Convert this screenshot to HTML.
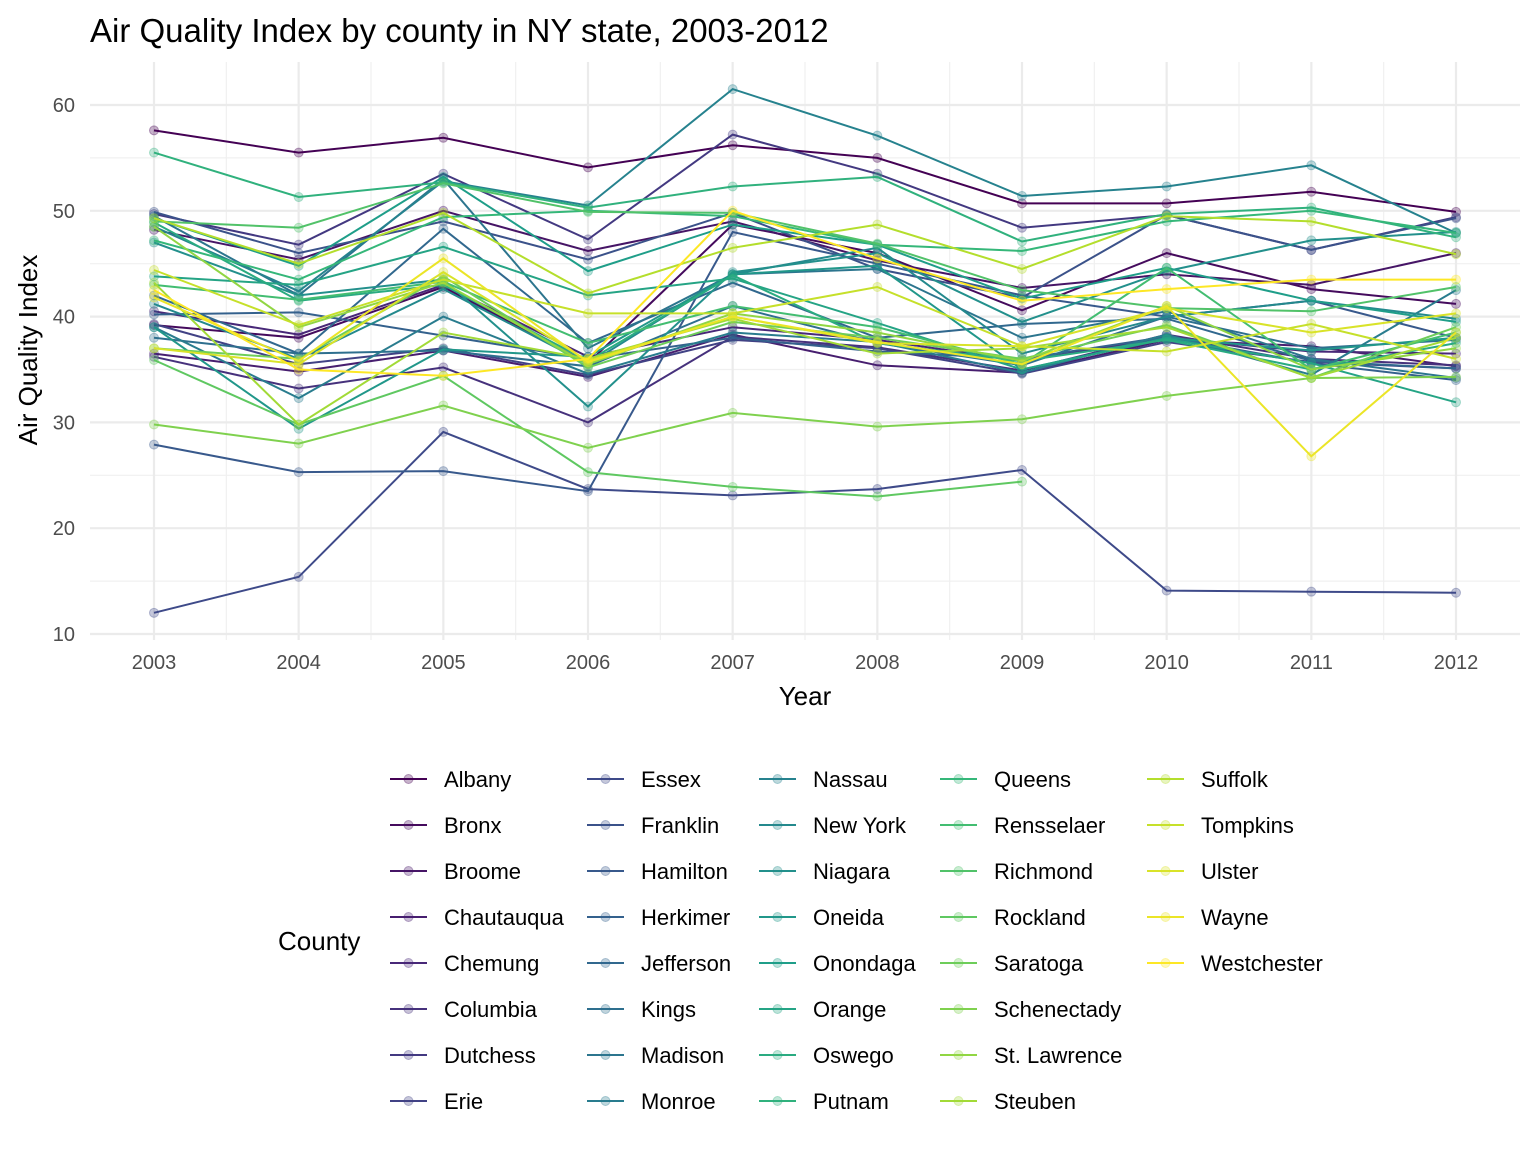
<!DOCTYPE html>
<html><head><meta charset="utf-8"><style>
body{margin:0;background:#fff;font-family:"Liberation Sans",Arial,sans-serif;}
svg text{font-family:"Liberation Sans",Arial,sans-serif;}
</style></head><body>
<svg id="chart" width="1536" height="1152" xmlns="http://www.w3.org/2000/svg">
<rect width="1536" height="1152" fill="#fff"/>
<text x="90" y="42" font-size="33" fill="#000">Air Quality Index by county in NY state, 2003-2012</text>
<g id="grid"></g><g id="series"></g><g id="axes"></g><g id="legend"></g>
<text x="805" y="705" font-size="26" text-anchor="middle" fill="#000">Year</text>
<text transform="translate(37,350) rotate(-90)" font-size="26" text-anchor="middle" fill="#000">Air Quality Index</text>
<text x="278" y="950" font-size="26" fill="#000">County</text>
</svg>
<script>
const years=[2003,2004,2005,2006,2007,2008,2009,2010,2011,2012];
const yTicks=[10,20,30,40,50,60];
const counties=["Albany","Bronx","Broome","Chautauqua","Chemung","Columbia","Dutchess","Erie","Essex","Franklin","Hamilton","Herkimer","Jefferson","Kings","Madison","Monroe","Nassau","New York","Niagara","Oneida","Onondaga","Orange","Oswego","Putnam","Queens","Rensselaer","Richmond","Rockland","Saratoga","Schenectady","St. Lawrence","Steuben","Suffolk","Tompkins","Ulster","Wayne","Westchester"];
const s0=[57.6,55.5,56.9,54.1,56.2,55.0,50.7,50.7,51.8,49.9];
const s1=[39.2,38.0,42.8,35.6,48.7,46.0,40.6,46.0,42.6,41.2];
const s2=[48.2,45.4,50.0,46.2,49.0,45.3,42.7,44.0,43.0,46.0];
const s3=[36.5,34.8,36.8,34.3,38.3,35.4,34.7,37.8,37.2,35.3];
const s4=[40.5,38.3,43.0,36.2,39.0,37.8,35.8,38.0,36.7,36.5];
const s5=[36.2,33.2,35.2,30.0,38.1,37.1,34.9,38.3,36.0,35.4];
const s6=[49.7,46.8,53.5,47.3,57.2,53.5,48.4,49.6,46.3,49.4];
const s7=[39.3,35.5,37.0,34.5,37.8,37.0,34.6,37.6,35.7,35.1];
const s8=[12.0,15.4,29.1,23.7,23.1,23.7,25.5,14.1,14.0,13.9];
const s9=[49.9,46.0,49.0,45.4,49.8,44.5,41.8,49.6,46.3,49.3];
const s10=[27.9,25.3,25.4,23.5,48.0,45.0,42.0,40.0,41.5,38.0];
const s11=[40.2,40.4,38.2,36.0,38.0,36.7,36.0,38.1,35.6,34.0];
const s12=[42.0,36.5,48.3,37.5,43.2,38.0,39.3,39.8,35.8,35.1];
const s13=[38.0,36.5,36.8,35.3,41.0,37.5,35.4,40.0,37.0,37.8];
const s14=[49.5,42.0,53.0,37.0,44.0,44.5,38.0,40.5,36.0,34.2];
const s15=[39.0,32.3,40.0,34.6,38.5,37.6,34.7,38.3,34.5,42.5];
const s16=[48.5,42.4,52.8,50.5,61.5,57.1,51.4,52.3,54.3,47.9];
const s17=[41.2,36.0,42.6,35.5,44.0,46.5,36.5,40.0,41.5,39.8];
const s18=[47.0,42.0,43.5,31.5,44.2,46.0,39.5,44.3,47.2,48.0];
const s19=[39.0,29.4,36.9,36.2,44.0,44.8,35.0,38.0,36.8,38.0];
const s20=[49.3,44.8,53.2,44.3,48.7,46.8,41.7,44.6,41.5,39.5];
const s21=[43.8,43.0,46.6,42.0,43.6,39.4,35.0,37.9,35.6,31.9];
const s22=[48.9,41.5,43.0,35.8,43.9,37.5,35.8,37.8,35.0,37.5];
const s23=[55.5,51.3,52.7,50.3,52.3,53.2,47.1,49.7,50.3,47.5];
const s24=[47.2,43.5,49.4,50.0,49.5,46.8,46.2,49.0,50.0,47.9];
const s25=[43.0,41.6,43.3,37.5,41.0,39.0,35.5,44.6,35.0,38.5];
const s26=[49.0,48.4,52.6,49.9,49.8,46.9,42.5,40.8,40.5,42.8];
const s27=[35.9,29.8,34.4,25.3,23.9,23.0,24.4,null,null,null];
const s28=[37.0,36.0,43.8,35.2,39.5,38.0,36.0,39.2,34.2,39.0];
const s29=[29.8,28.0,31.6,27.6,30.9,29.6,30.3,32.5,34.2,34.3];
const s30=[48.5,39.0,43.2,35.5,40.3,38.5,35.8,41.0,35.0,37.0];
const s31=[43.2,29.8,38.5,36.0,39.8,36.5,37.0,39.0,34.2,38.0];
const s32=[49.3,45.0,49.8,42.2,46.5,48.7,44.5,49.5,49.0,45.9];
const s33=[44.4,39.2,43.5,40.3,40.3,42.8,37.2,36.7,39.3,36.0];
const s34=[37.0,35.5,44.2,35.8,40.0,37.5,37.2,40.8,38.5,40.3];
const s35=[41.8,35.8,45.5,35.7,40.0,37.6,35.5,41.0,26.8,38.5];
const s36=[42.5,35.0,34.4,36.0,50.0,45.5,41.5,42.6,43.5,43.5];
const seriesValues=[s0,s1,s2,s3,s4,s5,s6,s7,s8,s9,s10,s11,s12,s13,s14,s15,s16,s17,s18,s19,s20,s21,s22,s23,s24,s25,s26,s27,s28,s29,s30,s31,s32,s33,s34,s35,s36];

const NS="http://www.w3.org/2000/svg";
const X0=154,X1=1456,Y60=105,Y10=634;
function xs(yr){return X0+(yr-years[0])*(X1-X0)/(years[years.length-1]-years[0]);}
function ys(v){return Y60+(60-v)*(Y10-Y60)/50;}
const vstops=[[68,1,84],[72,40,120],[62,74,137],[49,104,142],[38,130,142],[31,158,137],[53,183,121],[109,205,89],[180,222,44],[253,231,37]];
function viridis(t){const p=t*(vstops.length-1),i=Math.min(Math.floor(p),vstops.length-2),f=p-i;const a=vstops[i],b=vstops[i+1];return `rgb(${Math.round(a[0]+(b[0]-a[0])*f)},${Math.round(a[1]+(b[1]-a[1])*f)},${Math.round(a[2]+(b[2]-a[2])*f)})`;}
function mk(tag,attrs,parent){const e=document.createElementNS(NS,tag);for(const k in attrs)e.setAttribute(k,attrs[k]);parent.appendChild(e);return e;}

const grid=document.getElementById('grid');
for(let v=15;v<=55;v+=10){const l=mk('line',{x1:90,x2:1520,y1:ys(v),y2:ys(v),stroke:'#f0f0f0','stroke-width':1.2},grid);

}
for(let i=0;i<years.length-1;i++){const xm=(xs(years[i])+xs(years[i+1]))/2;const l=mk('line',{x1:xm,x2:xm,y1:62,y2:640,stroke:'#f0f0f0','stroke-width':1.2},grid);

}
yTicks.forEach(v=>{const l=mk('line',{x1:90,x2:1520,y1:ys(v),y2:ys(v),stroke:'#ebebeb','stroke-width':2.2},grid);

});
years.forEach(y=>{const l=mk('line',{x1:xs(y),x2:xs(y),y1:62,y2:640,stroke:'#ebebeb','stroke-width':2.2},grid);

});

const axes=document.getElementById('axes');
yTicks.forEach(v=>{const t=mk('text',{x:75,y:ys(v)+7,'font-size':20,'text-anchor':'end',fill:'#4d4d4d'},axes);t.textContent=v;

});
years.forEach(y=>{const t=mk('text',{x:xs(y),y:669,'font-size':20,'text-anchor':'middle',fill:'#4d4d4d'},axes);t.textContent=y;

});

const sg=document.getElementById('series');
const n=counties.length;
seriesValues.forEach((vals,k)=>{
  const c=viridis(k/(n-1));
  const g=mk('g',{},sg);
  
  
  let d='',pen=false;
  vals.forEach((v,i)=>{if(v==null){pen=false;return;}d+=(pen?'L':'M')+xs(years[i]).toFixed(1)+','+ys(v).toFixed(1);pen=true;});
  const p=mk('path',{d:d,fill:'none',stroke:c,'stroke-width':2},g);
  
  
  vals.forEach((v,i)=>{if(v==null)return;const ci=mk('circle',{cx:xs(years[i]),cy:ys(v),r:4.5,fill:c,'fill-opacity':0.3,stroke:c,'stroke-opacity':0.35,'stroke-width':1},g);
  
  });
});

const lg=document.getElementById('legend');
const colX=[390,587,759,940,1147];
counties.forEach((name,k)=>{
  const col=Math.floor(k/8),row=k%8;
  const x=colX[col],y=779+row*46;
  const c=viridis(k/(n-1));
  const g=mk('g',{},lg);
  
  
  mk('line',{x1:x,x2:x+37,y1:y,y2:y,stroke:c,'stroke-width':2},g);
  mk('circle',{cx:x+18.5,cy:y,r:4.5,fill:c,'fill-opacity':0.3,stroke:c,'stroke-opacity':0.35},g);
  const t=mk('text',{x:x+54,y:y+8,'font-size':22,fill:'#000'},g);t.textContent=name;
});
</script>
</body></html>
